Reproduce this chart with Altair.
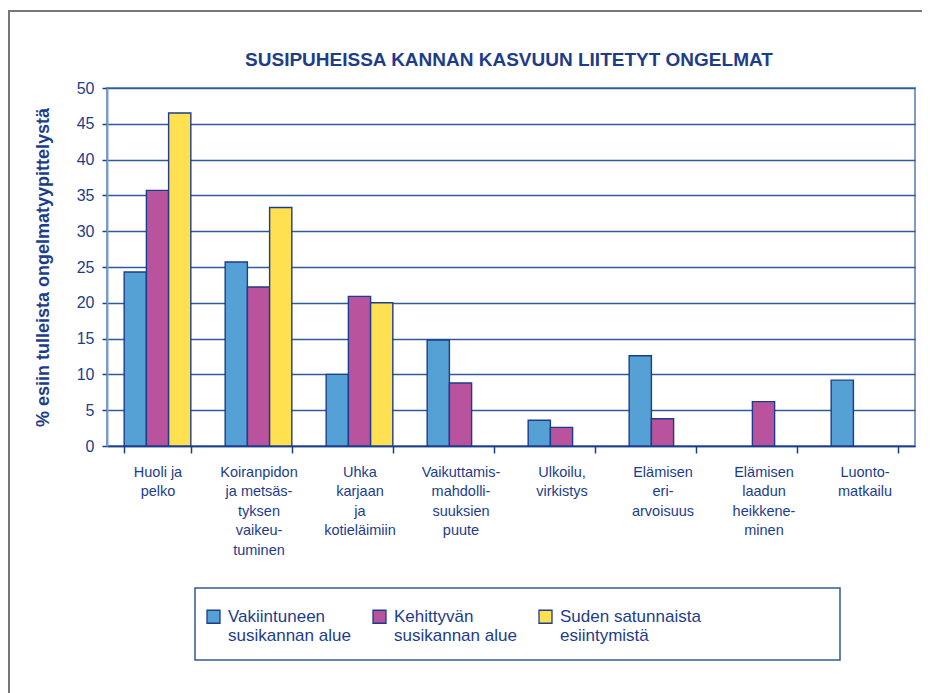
import altair as alt
import pandas as pd

title_text = "SUSIPUHEISSA KANNAN KASVUUN LIITETYT ONGELMAT"
y_title = "% esiin tulleista ongelmatyypittelystä"
categories = [
    "Huoli ja\npelko",
    "Koiranpidon\nja metsäs-\ntyksen\nvaikeu-\ntuminen",
    "Uhka\nkarjaan\nja\nkotieläimiin",
    "Vaikuttamis-\nmahdolli-\nsuuksien\npuute",
    "Ulkoilu,\nvirkistys",
    "Elämisen\neri-\narvoisuus",
    "Elämisen\nlaadun\nheikkene-\nminen",
    "Luonto-\nmatkailu",
]
series = [
    "Vakiintuneen\nsusikannan alue",
    "Kehittyvän\nsusikannan alue",
    "Suden satunnaista\nesiintymistä",
]
vakiintunut = [24.3, 25.7, 10.0, 14.8, 3.6, 12.6, None, 9.2]
kehittyva = [35.7, 22.2, 20.9, 8.8, 2.6, 3.8, 6.2, None]
satunnainen = [46.5, 33.3, 20.0, None, None, None, None, None]
colors = ["#55a0d4", "#b9539e", "#fee050"]

TXT = "#1d3d8b"
NAVY = "#1c3d8c"
GRID = "#2f5a9c"
LIGHT = "#7f9acb"
FONT = "Liberation Sans"

rows = []
for s, vals in zip(series, [vakiintunut, kehittyva, satunnainen]):
    for c, v in zip(categories, vals):
        if v is not None:
            rows.append({"cat": c, "series": s, "value": v})
df = pd.DataFrame(rows)

bars = alt.Chart(df).mark_bar(stroke=NAVY, strokeWidth=1.4, opacity=1).encode(
    x=alt.X(
        "cat:N",
        sort=categories,
        scale=alt.Scale(domain=categories, paddingInner=0.34, paddingOuter=0.17),
        axis=alt.Axis(
            title=None,
            labelAngle=0,
            labelExpr="split(datum.label, '\\n')",
            labelFont=FONT,
            labelFontSize=14.5,
            labelColor=TXT,
            labelLineHeight=19.5,
            labelPadding=12,
            labelBaseline="top",
            tickBand="extent",
            tickSize=7,
            tickColor=NAVY,
            tickWidth=1.5,
            domainColor=NAVY,
            domainWidth=1.5,
            labelLimit=200,
        ),
    ),
    xOffset=alt.XOffset("series:N", sort=series, scale=alt.Scale(domain=series)),
    y=alt.Y(
        "value:Q",
        scale=alt.Scale(domain=[0, 50], nice=False),
        axis=alt.Axis(
            title=y_title,
            titleFont=FONT,
            titleFontSize=18,
            titleFontWeight="bold",
            titleColor=TXT,
            titlePadding=24,
            values=list(range(0, 55, 5)),
            labelFont=FONT,
            labelFontSize=16,
            labelColor=TXT,
            labelPadding=8,
            tickSize=5,
            tickColor=NAVY,
            tickWidth=1.5,
            gridColor=GRID,
            gridWidth=1.6,
            domainColor=LIGHT,
            domainWidth=2,
        ),
    ),
    color=alt.Color(
        "series:N",
        sort=series,
        scale=alt.Scale(domain=series, range=colors),
        legend=alt.Legend(
            title=None,
            orient="none",
            legendX=98,
            legendY=520,
            direction="horizontal",
            labelExpr="split(datum.label, '\\n')",
            labelFont=FONT,
            labelFontSize=17,
            labelColor=TXT,
            labelBaseline="middle",
            labelOffset=6,
            labelLimit=300,
            columnPadding=19,
            symbolType="square",
            symbolSize=169,
            symbolStrokeColor=NAVY,
            symbolStrokeWidth=1.3,
            symbolOpacity=1,
        ),
    ),
)

one = pd.DataFrame({"k": [0]})
frame = alt.Chart(one).mark_rect(filled=False, stroke="#777777", strokeWidth=2).encode(
    x=alt.value(-98), x2=alt.value(840), y=alt.value(-77), y2=alt.value(700)
)
legend_box = alt.Chart(one).mark_rect(filled=False, stroke=GRID, strokeWidth=1.5).encode(
    x=alt.value(88), x2=alt.value(733), y=alt.value(500), y2=alt.value(572)
)
title = alt.Chart(pd.DataFrame({"t": [title_text]})).mark_text(
    font=FONT, fontSize=19, fontWeight="bold", color=TXT, baseline="middle", align="center"
).encode(text="t:N", x=alt.value(402), y=alt.value(-28))

chart = (
    alt.layer(frame, legend_box, bars, title)
    .properties(
        width=808,
        height=358,
        autosize="none",
        padding={"left": 99, "top": 80, "right": 7, "bottom": 247},
    )
    .configure_view(stroke=LIGHT, strokeWidth=2)
)

chart.save("out.html", embed_options={"renderer": "svg", "actions": False})
